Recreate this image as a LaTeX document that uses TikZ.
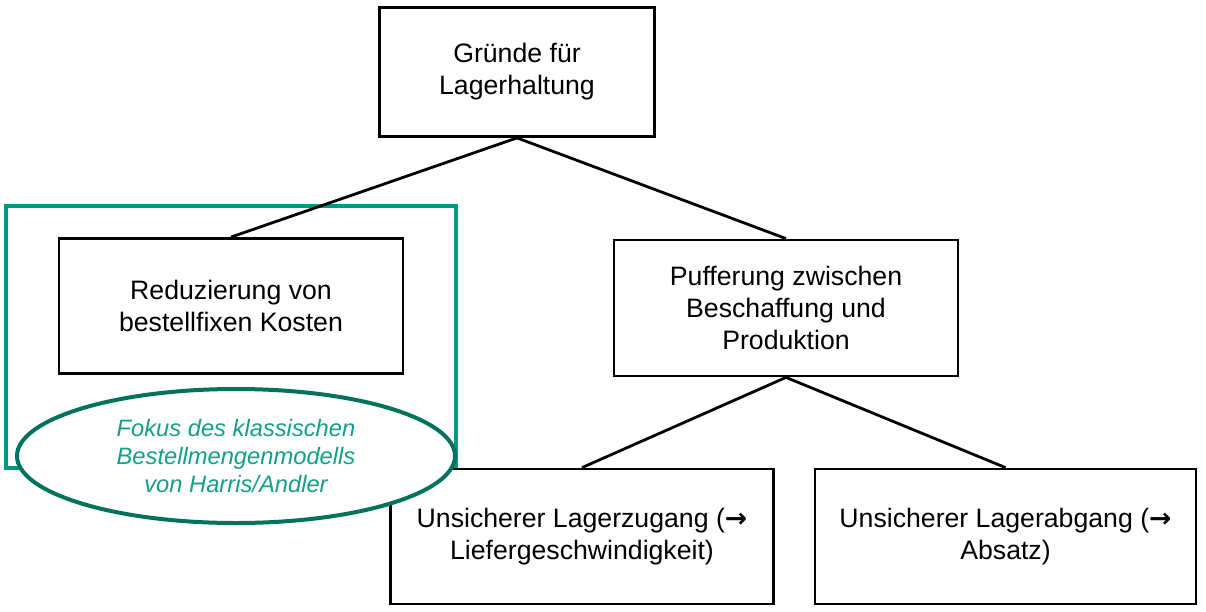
\documentclass[tikz,border=0pt]{standalone}
\usepackage{fontspec}
\setmainfont{Liberation Sans}
\newfontfamily\arrowfont{DejaVu Sans}
\usetikzlibrary{positioning, shapes.geometric}

\definecolor{focusframe}{RGB}{0,152,128}
\definecolor{focusring}{RGB}{0,114,94}
\definecolor{focustext}{RGB}{22,158,136}

\newcommand{\toarrow}{{\arrowfont\bfseries →}}

\tikzset{
  reason/.style={draw, line width=2.1pt, align=center, font=\fontsize{20}{24}\selectfont},
  link/.style={line width=2.1pt},
  focus/.style={draw=focusring, fill=white, line width=3pt, shape=ellipse, align=center,
    text=focustext, font=\fontsize{17.8}{21.3}\selectfont\itshape},
}

\begin{document}
\begin{tikzpicture}[x=0.75pt, y=-0.75pt]

  \useasboundingbox (0,0) rectangle (1206,611);

  \draw[focusframe, line width=2.8pt] (6,206) rectangle (456,468);

  \node[reason, minimum width=206.25pt, minimum height=96.75pt] (gruende) at (517,72) {Gründe für\\Lagerhaltung};
  \node[reason, minimum width=258pt, minimum height=101.25pt] (reduz) at (231,306) {Reduzierung von\\bestellfixen Kosten};
  \node[reason, minimum width=258pt, minimum height=102pt] (puffer) at (786,308) {Pufferung zwischen\\Beschaffung und\\Produktion};
  \node[reason, minimum width=287.25pt, minimum height=101.25pt] (zugang) at (582,536.5) {Unsicherer Lagerzugang (\toarrow\\Liefergeschwindigkeit)};
  \node[reason, minimum width=285.75pt, minimum height=101.25pt] (abgang) at (1005.5,536.5) {Unsicherer Lagerabgang (\toarrow\\Absatz)};

  \node[focus, minimum width=328.5pt, minimum height=100.5pt, inner sep=0pt] (fokus) at (236,456) {Fokus des klassischen\\Bestellmengenmodells\\von Harris/Andler};

  \draw[link] (gruende.south) -- (reduz.north);
  \draw[link] (gruende.south) -- (puffer.north);
  \draw[link] (puffer.south) -- (zugang.north);
  \draw[link] (puffer.south) -- (abgang.north);

\end{tikzpicture}
\end{document}
